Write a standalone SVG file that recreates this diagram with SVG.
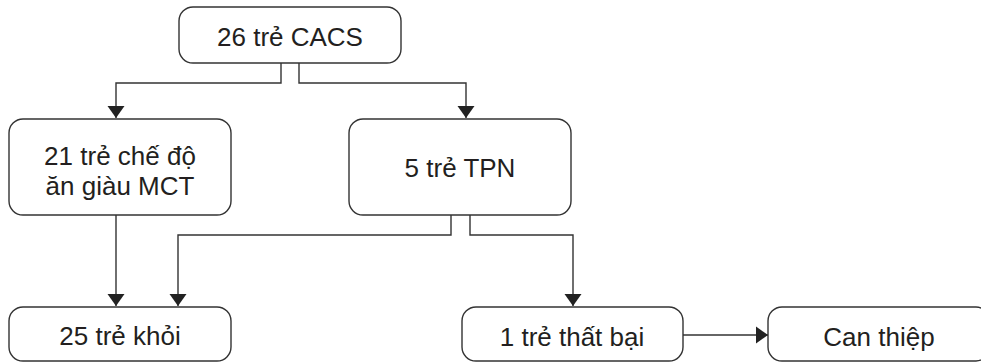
<svg xmlns="http://www.w3.org/2000/svg" width="981" height="362" viewBox="0 0 981 362">
<style>
.box{fill:#fff;stroke:#333;stroke-width:1.4}
.t{font-family:"Liberation Sans",Arial,sans-serif;font-size:26px;fill:#231f20;text-anchor:middle}
.c{fill:none;stroke:#333;stroke-width:1.4}
</style>
<defs>
<marker id="ah" markerUnits="userSpaceOnUse" markerWidth="20" markerHeight="20" viewBox="0 0 20 20" refX="12" refY="10" orient="auto">
<path d="M0,1.5 L12,10 L0,18.5 Z" fill="#222"/>
</marker>
</defs>
<rect width="981" height="362" fill="#fff"/>
<g id="connectors">
<path class="c" d="M281,63 V83 H116 V118" marker-end="url(#ah)"/>
<path class="c" d="M299,63 V83 H466 V118" marker-end="url(#ah)"/>
<path class="c" d="M116,215 V306" marker-end="url(#ah)"/>
<path class="c" d="M451,215 V235 H178 V306" marker-end="url(#ah)"/>
<path class="c" d="M470,215 V235 H573 V306" marker-end="url(#ah)"/>
<path class="c" d="M683,335 H768" marker-end="url(#ah)"/>
</g>
<g id="n1"><rect class="box" x="179" y="7" width="222" height="56" rx="14"/><text class="t" x="290" y="46">26 trẻ CACS</text></g>
<g id="n2"><rect class="box" x="9" y="119" width="222" height="96" rx="14"/><text class="t" x="120" y="165">21 trẻ chế độ</text><text class="t" x="120" y="195">ăn giàu MCT</text></g>
<g id="n3"><rect class="box" x="349" y="119" width="222" height="96" rx="14"/><text class="t" x="460" y="177">5 trẻ TPN</text></g>
<g id="n4"><rect class="box" x="9" y="307" width="222" height="54" rx="14"/><text class="t" x="120" y="345">25 trẻ khỏi</text></g>
<g id="n5"><rect class="box" x="462" y="307" width="221" height="54" rx="14"/><text class="t" x="572" y="346">1 trẻ thất bại</text></g>
<g id="n6"><rect class="box" x="768" y="307" width="222" height="54" rx="14"/><text class="t" x="879" y="346">Can thiệp</text></g>
</svg>
